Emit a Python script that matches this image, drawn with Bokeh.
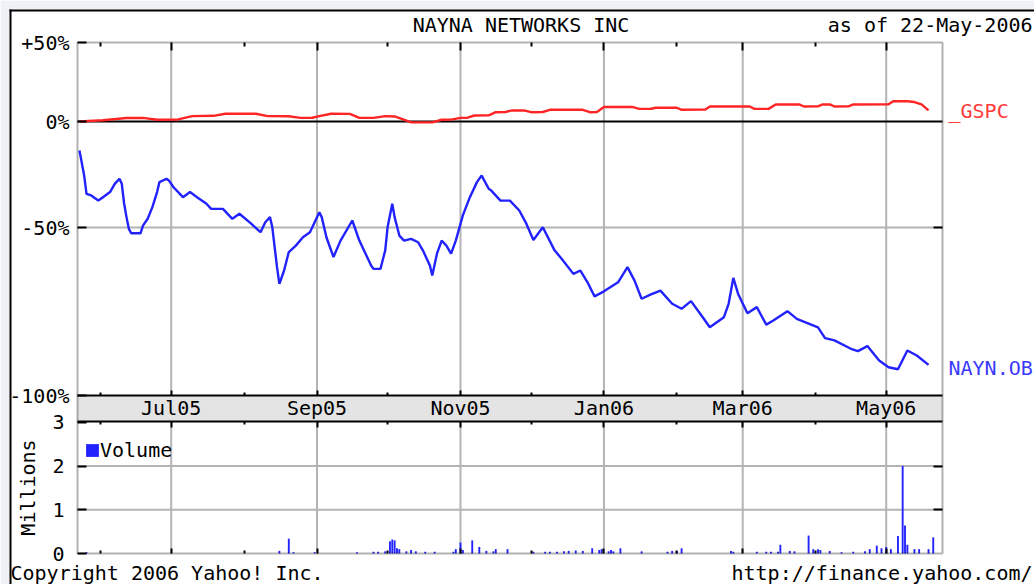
import math
import numpy as np
import pandas as pd
from bokeh.plotting import figure
from bokeh.models import (Range1d, LinearAxis, DatetimeAxis, FixedTicker,
                          BoxAnnotation, Label, Legend, LegendItem, DatetimeTickFormatter)
from bokeh.embed import file_html
from bokeh.resources import INLINE

# ---------------- data ----------------
TITLE = "NAYNA NETWORKS INC"
AS_OF = "as of 22-May-2006"
START = "2005-05-23"          # day 0 of the series

# NAYN.OB : days after START, % change
nayn_days = [0, 2, 3, 5, 8, 10, 13, 15, 17, 18, 19, 20, 21, 22, 26, 27, 29, 31, 33, 34, 37, 38, 40, 44,
             47, 50, 54, 56, 61, 65, 68, 73, 77, 79, 81, 82, 83, 84, 85, 87, 89, 92, 95, 98, 100, 102,
             103, 105, 108, 111, 116, 119, 124, 125, 128, 130, 131, 133, 134, 136, 138, 141, 144, 146,
             149, 150, 152, 154, 156, 158, 160, 163, 166, 169, 171, 174, 175, 179, 183, 187, 190, 193,
             197, 202, 205, 210, 213, 216, 219, 223, 229, 233, 236, 239, 243, 247, 252, 256, 260, 265,
             268, 274, 276, 278, 280, 284, 288, 292, 295, 301, 305, 314, 317, 321, 328, 331, 335, 340,
             344, 348, 352, 356, 361]
nayn_pct = [-13.7, -25.5, -34.1, -34.9, -37.3, -35.7, -33.3, -29.4, -27.0, -29.4, -38.8, -45.1, -50.4,
            -51.7, -51.7, -49.1, -45.9, -40.4, -33.3, -28.6, -27.0, -27.8, -31.0, -35.7, -33.3, -35.7,
            -38.8, -41.2, -41.2, -45.9, -43.5, -48.2, -51.4, -47.5, -45.1, -49.9, -55.9, -61.8, -66.8,
            -62.8, -57.3, -55.4, -52.9, -51.4, -47.5, -42.8, -45.1, -52.9, -58.8, -53.9, -46.7, -53.9,
            -61.3, -62.3, -62.3, -56.8, -49.9, -38.8, -45.1, -52.4, -53.9, -53.4, -54.4, -56.8, -61.3,
            -64.3, -57.8, -53.9, -55.4, -57.8, -53.9, -44.3, -35.7, -28.6, -25.5, -31.7, -32.5, -37.3,
            -37.3, -42.0, -48.2, -53.7, -49.9, -56.8, -59.3, -63.8, -62.8, -66.3, -70.5, -69.0, -66.3,
            -61.8, -65.8, -71.2, -69.9, -68.8, -72.7, -74.2, -71.9, -76.7, -79.7, -76.7, -72.7, -65.0,
            -69.7, -75.5, -73.7, -78.9, -77.7, -74.9, -77.2, -79.7, -82.9, -83.6, -86.1, -86.8, -85.3,
            -89.6, -91.6, -92.2, -86.6, -88.1, -90.9]

# _GSPC : days after START, % change
gspc_days = [0, 10, 20, 27, 33, 42, 48, 57, 62, 75, 80, 89, 94, 99, 102, 107, 115, 119, 125, 130, 134,
             137, 141, 150, 154, 158, 162, 165, 168, 174, 177, 181, 184, 189, 192, 197, 200, 214, 217,
             220, 223, 235, 238, 243, 245, 254, 256, 266, 268, 285, 287, 293, 296, 306, 308, 314, 316,
             319, 321, 327, 329, 344, 346, 352, 355, 358, 361]
gspc_pct = [0.0, 0.8, 2.2, 2.3, 1.1, 1.3, 3.4, 3.6, 4.9, 4.9, 3.4, 3.3, 2.3, 2.4, 3.4, 4.9, 4.8, 2.3,
            2.3, 3.4, 3.2, 1.7, -0.4, -0.4, 1.1, 1.2, 2.3, 2.4, 3.8, 3.9, 5.9, 6.0, 7.0, 7.0, 5.9, 6.0,
            7.4, 7.4, 5.9, 6.0, 9.2, 9.2, 8.0, 8.1, 8.7, 8.7, 7.4, 7.5, 9.5, 9.5, 8.0, 8.0, 10.8, 10.8,
            9.5, 9.6, 10.8, 10.8, 9.5, 9.6, 10.8, 10.9, 12.8, 12.8, 12.3, 10.8, 7.0]

# Volume (millions of shares): days after START
vol_days = [3, 85, 89, 91, 100, 118, 125, 127, 130, 132, 133, 134, 135, 136, 139, 141, 143, 147, 151,
            159, 160, 162, 163, 167, 170, 173, 176, 177, 182, 193, 198, 200, 203, 206, 208, 211, 214,
            218, 221, 222, 225, 226, 227, 230, 239, 250, 252, 254, 256, 277, 278, 288, 292, 294, 297,
            298, 302, 304, 310, 312, 314, 315, 319, 324, 329, 334, 336, 339, 341, 343, 345, 348, 350,
            351, 352, 355, 357, 361, 363]
vol_millions = [0.03, 0.06, 0.34, 0.03, 0.03, 0.03, 0.04, 0.04, 0.05, 0.28, 0.32, 0.30, 0.12, 0.10,
                0.05, 0.08, 0.05, 0.04, 0.04, 0.04, 0.10, 0.25, 0.08, 0.30, 0.15, 0.06, 0.05, 0.10,
                0.10, 0.04, 0.04, 0.04, 0.04, 0.05, 0.06, 0.07, 0.06, 0.12, 0.08, 0.10, 0.05, 0.08,
                0.05, 0.12, 0.05, 0.04, 0.06, 0.06, 0.12, 0.06, 0.04, 0.04, 0.04, 0.04, 0.04, 0.20,
                0.06, 0.05, 0.41, 0.10, 0.10, 0.08, 0.06, 0.03, 0.04, 0.05, 0.10, 0.18, 0.12, 0.15,
                0.10, 0.40, 2.00, 0.64, 0.20, 0.10, 0.10, 0.10, 0.37]

price_tick_pct = [-100, -50, 0, 50]
price_tick_labels = ["-100%", "-50%", "0%", "+50%"]
price_grid_pct = [-50]
vol_ticks = [0, 1, 2, 3]
vol_grid = [1, 2]
major_months = ["2005-07-01", "2005-09-01", "2005-11-01", "2006-01-01", "2006-03-01", "2006-05-01"]
minor_months = ["2005-06-01", "2005-08-01", "2005-10-01", "2005-12-01", "2006-02-01", "2006-04-01"]
series_names = ["_GSPC", "NAYN.OB"]
vol_name = "Volume"
vol_unit = "Millions"
footer_left = "Copyright 2006 Yahoo! Inc."
footer_right = "http://finance.yahoo.com/"

# ---------------- layout / style ----------------
W, H = 1034, 584
FONT = "DejaVu Sans Mono"
FS = "20px"
RED = "#ff2525"
BLUE = "#2222ff"
GRID = "#b4b4b4"
BAND = "#e4e4e4"
PAGE_BG = "#eff1f6"

# plot-area edges in canvas pixels
LEFT, RIGHT, TOP, PRICE_BOTTOM, VOL_TOP, BOTTOM = 77, 942, 42, 395, 421, 553
PX_PER_MILLION = 43.7

# display scale of the comparison panel (percent -> units above the price-panel bottom)
SCALE_PCT = [-100, -50, 0, 50]
SCALE_POS = [0, 168, 274, 353]

x_start = pd.Timestamp("2005-05-22 04:00")
x_end = pd.Timestamp("2006-05-24 22:30")
xs_ms = float(x_start.value // 10**6)
xe_ms = float(x_end.value // 10**6)
MS_PER_PX = (xe_ms - xs_ms) / (RIGHT - LEFT)


def X(px):
    """canvas pixel column -> date (ms)"""
    return xs_ms + (px - LEFT) * MS_PER_PX


def Y(py):
    """canvas pixel row -> main y units"""
    return PRICE_BOTTOM - py


def to_axis(pct):
    return np.interp(np.asarray(pct, dtype=float), SCALE_PCT, SCALE_POS)


def to_dates(days):
    return pd.Timestamp(START) + pd.to_timedelta(np.asarray(days), unit="D")


def ms(s):
    return float(pd.Timestamp(s).value // 10**6)


p = figure(width=W, height=H, x_axis_type="datetime",
           x_axis_location=None, y_axis_location=None,
           x_range=Range1d(X(0), X(W)), y_range=Range1d(Y(H), Y(0)),
           toolbar_location=None, tools="", output_backend="svg",
           min_border=0, min_border_left=0, min_border_right=0, min_border_top=0,
           min_border_bottom=0, background_fill_color="white", border_fill_color="white",
           outline_line_color=None)
p.extra_y_ranges = {"vol": Range1d((BOTTOM - H) / PX_PER_MILLION, BOTTOM / PX_PER_MILLION)}
p.xgrid.visible = False
p.ygrid.visible = False

y_top, y_band_bottom, y_bottom = Y(TOP), Y(VOL_TOP), Y(BOTTOM)

major_ms = [ms(m) for m in major_months]
minor_ms = [ms(m) for m in minor_months]

# grid lines (price panel + volume panel; the date band covers the gap)
n = len(major_ms)
p.segment(x0=major_ms, x1=major_ms, y0=[y_bottom] * n, y1=[y_top] * n,
          line_color=GRID, line_width=2, level="underlay")
pg = to_axis(price_grid_pct)
p.segment(x0=[xs_ms] * len(pg), x1=[xe_ms] * len(pg), y0=pg, y1=pg,
          line_color=GRID, line_width=2, level="underlay")
p.segment(x0=[xs_ms] * len(vol_grid), x1=[xe_ms] * len(vol_grid), y0=vol_grid, y1=vol_grid,
          y_range_name="vol", line_color=GRID, line_width=2, level="underlay")
z = to_axis([0])
p.segment(x0=[xs_ms], x1=[xe_ms], y0=z, y1=z, line_color="black", line_width=2, level="underlay")

# date band between panels
p.add_layout(BoxAnnotation(left=xs_ms, right=xe_ms, bottom=y_band_bottom, top=0,
                           fill_color=BAND, fill_alpha=1.0, line_color=None, level="glyph"))

# series
p.line(to_dates(gspc_days), to_axis(gspc_pct), line_color=RED, line_width=2.4)
p.line(to_dates(nayn_days), to_axis(nayn_pct), line_color=BLUE, line_width=2.4)
vbars = p.vbar(x=to_dates(vol_days), top=vol_millions, width=0.8 * 86400000,
               y_range_name="vol", fill_color=BLUE, line_color=None)

# plot-area frame
p.add_layout(BoxAnnotation(left=xs_ms, right=xe_ms, bottom=y_bottom, top=y_top,
                           fill_color=None, line_color="black", line_width=2))

# page strips and the sheet's black top/left edge
p.add_layout(BoxAnnotation(bottom=Y(9), fill_color=PAGE_BG, fill_alpha=1.0, line_color=None))
p.add_layout(BoxAnnotation(right=X(9), fill_color=PAGE_BG, fill_alpha=1.0, line_color=None))
p.add_layout(BoxAnnotation(left=X(9), top=Y(9), bottom=Y(11), fill_color="black",
                           fill_alpha=1.0, line_color=None))
p.add_layout(BoxAnnotation(left=X(9), right=X(11), top=Y(9), fill_color="black",
                           fill_alpha=1.0, line_color=None))

fmt = DatetimeTickFormatter(days="%b%y", months="%b%y", years="%b%y")


def hx_axis(loc, tin, tout, labels=False, line=True):
    return DatetimeAxis(fixed_location=loc, bounds=(xs_ms, xe_ms),
                        ticker=FixedTicker(ticks=major_ms, minor_ticks=minor_ms),
                        formatter=fmt,
                        major_tick_in=tin[0], minor_tick_in=tin[1],
                        major_tick_out=tout[0], minor_tick_out=tout[1],
                        major_tick_line_width=2, minor_tick_line_width=2,
                        major_tick_line_color="black", minor_tick_line_color="black",
                        axis_line_color="black" if line else None, axis_line_width=2,
                        major_label_text_font=FONT, major_label_text_font_size=FS,
                        major_label_text_color="black" if labels else None,
                        major_label_standoff=0)


p.add_layout(hx_axis(y_top, (8, 4), (0, 0), line=False), "above")
p.add_layout(hx_axis(0, (5, 3), (0, 0), labels=True), "below")
p.add_layout(hx_axis(y_band_bottom, (0, 0), (6, 3)), "below")
p.add_layout(hx_axis(y_bottom, (5, 3), (0, 0), line=False), "below")

price_ticks = [int(round(v)) for v in to_axis(price_tick_pct)]
p.add_layout(LinearAxis(fixed_location=xs_ms, ticker=FixedTicker(ticks=price_ticks),
                        major_label_overrides=dict(zip(price_ticks, price_tick_labels)),
                        major_tick_in=9, major_tick_out=0, minor_tick_in=0, minor_tick_out=0,
                        major_tick_line_width=2, axis_line_color=None,
                        major_label_text_font=FONT, major_label_text_font_size=FS,
                        major_label_text_color="black", major_label_standoff=8), "left")
p.add_layout(LinearAxis(fixed_location=xs_ms, y_range_name="vol",
                        ticker=FixedTicker(ticks=vol_ticks),
                        major_tick_in=9, major_tick_out=0, minor_tick_in=0, minor_tick_out=0,
                        major_tick_line_width=2, axis_line_color=None,
                        major_label_text_font=FONT, major_label_text_font_size=FS,
                        major_label_text_color="black", major_label_standoff=13), "left")
p.add_layout(LinearAxis(fixed_location=xe_ms, ticker=FixedTicker(ticks=[price_ticks[1]]),
                        major_tick_in=9, major_tick_out=0, minor_tick_in=0, minor_tick_out=0,
                        major_tick_line_width=2, axis_line_color=None,
                        major_label_text_color=None), "right")
p.add_layout(LinearAxis(fixed_location=xe_ms, y_range_name="vol", ticker=FixedTicker(ticks=vol_grid),
                        major_tick_in=9, major_tick_out=0, minor_tick_in=0, minor_tick_out=0,
                        major_tick_line_width=2, axis_line_color=None,
                        major_label_text_color=None), "right")

legend = Legend(items=[LegendItem(label=vol_name, renderers=[vbars])], location=(84, H - 462),
                padding=0, spacing=0, margin=0, glyph_width=16, glyph_height=16,
                label_standoff=0, border_line_color=None, background_fill_alpha=0,
                label_text_font=FONT, label_text_font_size=FS, label_text_color="black")
p.add_layout(legend, "center")


def label(px, py, text, align="left", color="black", angle=0.0):
    p.add_layout(Label(x=px, y=H - py, x_units="screen", y_units="screen", text=text,
                       text_font=FONT, text_font_size=FS, text_color=color,
                       text_align=align, text_baseline="middle", angle=angle))


label(520.5, 24, TITLE, "center")
label(1032, 24, AS_OF, "right")
label(948, 110, series_names[0], "left", "#ff3a3a")
label(948, 367, series_names[1], "left", "#3a3aff")
label(27, 487, vol_unit, "center", angle=math.pi / 2)
label(10, 572, footer_left, "left")
label(1032, 572, footer_right, "right")

open("out.html", "w").write(file_html(p, INLINE))
